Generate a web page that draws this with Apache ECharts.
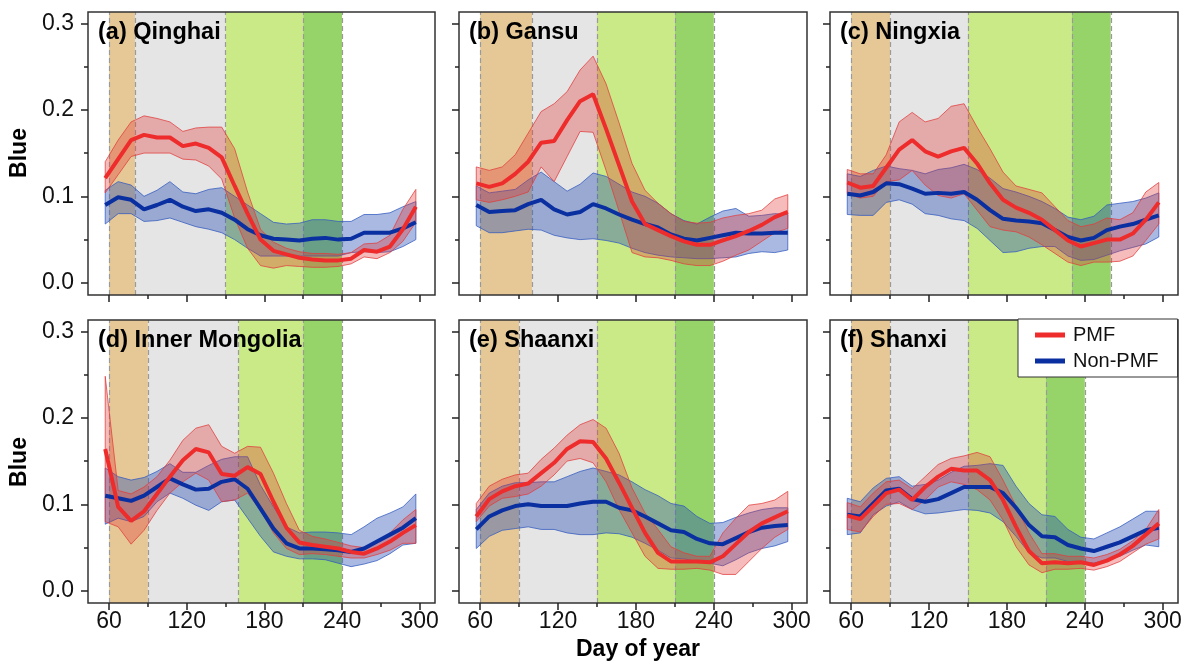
<!DOCTYPE html>
<html>
<head>
<meta charset="utf-8">
<script src="https://cdn.jsdelivr.net/npm/echarts@6.0.0/dist/echarts.min.js"></script>
<style>
html,body{margin:0;padding:0;background:#fff;}
#chart{width:1191px;height:661px;}
</style>
</head>
<body>
<div id="chart"></div>
<script>
// ---- Data ----
const days = [57,67,77,87,97,107,117,127,137,147,157,167,177,187,197,207,217,227,237,247,257,267,277,287,297];
const xTickMajor = [60,120,180,240,300];
const xTickMinor = [90,150,210,270];
const yTickMajor = [0.0,0.1,0.2,0.3];
const yTickMinor = [0.05,0.15,0.25];

const panelTitles = ['(a) Qinghai','(b) Gansu','(c) Ningxia','(d) Inner Mongolia','(e) Shaanxi','(f) Shanxi'];

// Period boundaries (day of year) for the shaded phases
const periodsA = [60,80,150,210,240];
const periodsB = [60,100,150,210,240];
const periodsC = [60,90,150,230,260];
const periodsD = [60,90,160,210,240];
const periodsE = [60,90,150,210,240];
const periodsF = [60,90,150,210,240];

// (a) Qinghai
const pmfMeanA = [0.121,0.143,0.165,0.171,0.168,0.168,0.158,0.161,0.156,0.145,0.112,0.080,0.050,0.037,0.033,0.029,0.027,0.026,0.026,0.028,0.038,0.036,0.042,0.062,0.088];
const pmfHiA   = [0.140,0.165,0.186,0.193,0.190,0.186,0.175,0.179,0.180,0.180,0.155,0.105,0.062,0.047,0.040,0.036,0.034,0.034,0.033,0.035,0.045,0.046,0.055,0.085,0.108];
const pmfLoA   = [0.104,0.125,0.146,0.150,0.150,0.150,0.143,0.142,0.135,0.120,0.075,0.040,0.020,0.017,0.020,0.019,0.018,0.018,0.019,0.022,0.030,0.028,0.035,0.048,0.070];
const nonMeanA = [0.090,0.099,0.096,0.085,0.090,0.096,0.088,0.083,0.085,0.081,0.073,0.062,0.055,0.051,0.050,0.049,0.051,0.052,0.050,0.051,0.058,0.058,0.058,0.063,0.070];
const nonHiA   = [0.107,0.117,0.113,0.100,0.107,0.117,0.105,0.103,0.108,0.110,0.100,0.090,0.080,0.070,0.068,0.069,0.073,0.073,0.071,0.071,0.079,0.079,0.081,0.088,0.094];
const nonLoA   = [0.068,0.080,0.080,0.071,0.072,0.075,0.070,0.065,0.062,0.058,0.050,0.040,0.031,0.031,0.031,0.031,0.031,0.031,0.031,0.035,0.036,0.035,0.036,0.042,0.050];

// (b) Gansu
const pmfMeanB = [0.115,0.111,0.115,0.126,0.140,0.162,0.164,0.188,0.210,0.218,0.178,0.136,0.094,0.068,0.061,0.054,0.048,0.044,0.044,0.049,0.054,0.060,0.067,0.076,0.082];
const pmfHiB   = [0.134,0.130,0.134,0.148,0.173,0.198,0.207,0.221,0.246,0.262,0.230,0.185,0.138,0.107,0.092,0.080,0.071,0.069,0.070,0.075,0.078,0.080,0.084,0.097,0.102];
const pmfLoB   = [0.096,0.093,0.096,0.100,0.105,0.134,0.117,0.146,0.175,0.174,0.130,0.083,0.035,0.030,0.029,0.026,0.022,0.020,0.020,0.025,0.032,0.038,0.048,0.058,0.063];
const nonMeanB = [0.090,0.082,0.083,0.084,0.091,0.096,0.085,0.079,0.082,0.091,0.086,0.079,0.073,0.068,0.064,0.056,0.051,0.049,0.052,0.055,0.058,0.057,0.057,0.058,0.058];
const nonHiB   = [0.112,0.104,0.106,0.108,0.119,0.128,0.117,0.106,0.114,0.127,0.123,0.114,0.105,0.100,0.092,0.080,0.072,0.068,0.076,0.083,0.086,0.077,0.078,0.080,0.079];
const nonLoB   = [0.066,0.058,0.058,0.060,0.062,0.061,0.055,0.052,0.050,0.051,0.049,0.046,0.040,0.035,0.032,0.030,0.029,0.028,0.028,0.029,0.030,0.034,0.036,0.035,0.038];

// (c) Ningxia
const pmfMeanC = [0.116,0.110,0.112,0.133,0.154,0.165,0.152,0.146,0.152,0.156,0.138,0.115,0.096,0.087,0.081,0.073,0.061,0.049,0.042,0.046,0.050,0.050,0.057,0.073,0.093];
const pmfHiC   = [0.131,0.126,0.126,0.148,0.186,0.197,0.186,0.190,0.204,0.207,0.180,0.155,0.128,0.112,0.108,0.104,0.088,0.072,0.065,0.068,0.075,0.073,0.081,0.105,0.116];
const pmfLoC   = [0.103,0.098,0.100,0.117,0.119,0.130,0.113,0.101,0.098,0.103,0.084,0.065,0.061,0.059,0.053,0.044,0.034,0.024,0.020,0.024,0.024,0.025,0.031,0.049,0.068];
const nonMeanC = [0.103,0.101,0.105,0.115,0.114,0.109,0.103,0.104,0.103,0.105,0.096,0.084,0.074,0.072,0.071,0.069,0.061,0.053,0.049,0.052,0.061,0.065,0.068,0.073,0.078];
const nonHiC   = [0.126,0.123,0.130,0.135,0.132,0.130,0.126,0.131,0.133,0.137,0.131,0.121,0.109,0.105,0.100,0.094,0.086,0.076,0.073,0.077,0.090,0.092,0.094,0.098,0.104];
const nonLoC   = [0.079,0.078,0.078,0.093,0.096,0.091,0.080,0.078,0.074,0.072,0.063,0.049,0.035,0.036,0.040,0.042,0.042,0.031,0.026,0.027,0.032,0.037,0.041,0.045,0.053];

// (d) Inner Mongolia
const pmfMeanD = [0.164,0.097,0.081,0.092,0.112,0.132,0.151,0.164,0.160,0.135,0.133,0.143,0.135,0.103,0.073,0.056,0.053,0.051,0.049,0.045,0.043,0.049,0.057,0.067,0.076];
const pmfHiD   = [0.248,0.116,0.112,0.120,0.132,0.151,0.174,0.188,0.192,0.167,0.159,0.167,0.166,0.136,0.101,0.070,0.063,0.060,0.056,0.052,0.050,0.057,0.067,0.082,0.094];
const pmfLoD   = [0.080,0.074,0.054,0.070,0.093,0.113,0.126,0.136,0.128,0.103,0.105,0.113,0.093,0.067,0.049,0.042,0.043,0.042,0.040,0.038,0.038,0.042,0.047,0.055,0.055];
const nonMeanD = [0.110,0.107,0.104,0.110,0.120,0.130,0.123,0.117,0.118,0.126,0.129,0.118,0.095,0.072,0.055,0.049,0.049,0.048,0.047,0.045,0.049,0.057,0.065,0.073,0.084];
const nonHiD   = [0.142,0.132,0.128,0.131,0.138,0.147,0.137,0.137,0.145,0.152,0.155,0.155,0.122,0.097,0.074,0.067,0.068,0.068,0.067,0.065,0.074,0.084,0.090,0.097,0.112];
const nonLoD   = [0.077,0.084,0.080,0.086,0.103,0.113,0.107,0.099,0.093,0.103,0.105,0.084,0.063,0.045,0.040,0.037,0.037,0.036,0.032,0.028,0.031,0.035,0.043,0.053,0.055];

// (e) Shaanxi
const pmfMeanE = [0.086,0.106,0.115,0.121,0.124,0.136,0.148,0.164,0.173,0.172,0.153,0.125,0.096,0.067,0.044,0.034,0.034,0.034,0.033,0.040,0.054,0.068,0.078,0.085,0.092];
const pmfHiE   = [0.101,0.121,0.129,0.134,0.136,0.152,0.165,0.180,0.192,0.198,0.188,0.159,0.119,0.090,0.071,0.051,0.044,0.040,0.040,0.067,0.084,0.099,0.101,0.105,0.115];
const pmfLoE   = [0.080,0.098,0.107,0.109,0.112,0.121,0.134,0.150,0.153,0.148,0.126,0.094,0.067,0.040,0.026,0.025,0.025,0.026,0.024,0.019,0.019,0.034,0.049,0.062,0.071];
const nonMeanE = [0.071,0.086,0.093,0.098,0.100,0.098,0.098,0.098,0.101,0.103,0.103,0.096,0.093,0.086,0.078,0.070,0.068,0.060,0.055,0.054,0.061,0.068,0.073,0.075,0.076];
const nonHiE   = [0.094,0.113,0.121,0.125,0.125,0.126,0.126,0.132,0.138,0.142,0.138,0.134,0.126,0.117,0.110,0.101,0.098,0.086,0.078,0.079,0.085,0.090,0.094,0.096,0.096];
const nonLoE   = [0.049,0.063,0.070,0.072,0.074,0.071,0.071,0.067,0.065,0.065,0.067,0.066,0.062,0.055,0.047,0.038,0.037,0.034,0.032,0.029,0.036,0.044,0.049,0.052,0.057];

// (f) Shanxi
const pmfMeanF = [0.087,0.083,0.098,0.113,0.117,0.105,0.120,0.132,0.141,0.139,0.139,0.128,0.105,0.074,0.046,0.032,0.033,0.032,0.033,0.030,0.035,0.042,0.052,0.065,0.078];
const pmfHiF   = [0.102,0.097,0.113,0.126,0.128,0.118,0.132,0.146,0.153,0.156,0.160,0.155,0.128,0.098,0.067,0.043,0.043,0.040,0.040,0.038,0.042,0.048,0.058,0.071,0.094];
const pmfLoF   = [0.071,0.068,0.086,0.100,0.101,0.094,0.105,0.120,0.126,0.123,0.117,0.105,0.082,0.051,0.030,0.021,0.025,0.025,0.026,0.024,0.028,0.034,0.044,0.054,0.060];
const nonMeanF = [0.088,0.086,0.101,0.116,0.118,0.106,0.103,0.106,0.113,0.120,0.120,0.120,0.113,0.096,0.076,0.063,0.062,0.053,0.049,0.046,0.051,0.056,0.063,0.070,0.073];
const nonHiF   = [0.107,0.103,0.119,0.130,0.132,0.121,0.123,0.128,0.137,0.144,0.145,0.147,0.145,0.121,0.101,0.088,0.086,0.071,0.062,0.060,0.067,0.074,0.083,0.092,0.092];
const nonLoF   = [0.065,0.067,0.088,0.098,0.103,0.094,0.089,0.090,0.092,0.094,0.093,0.090,0.080,0.063,0.044,0.038,0.038,0.034,0.034,0.032,0.036,0.040,0.047,0.053,0.051];

// ---- Layout / style ----
const FONT = '"Liberation Sans", Arial, sans-serif';
const COL_LEFT = [88, 459, 830];
const COL_W = [347, 348, 348];
const ROW_TOP = [12, 320];
const PLOT_H = 283;
const XMIN = 43.7, XMAX = 311.8, YMIN = -0.014, YMAX = 0.313;
const BG_COLORS = ['#E6C896', '#E5E5E5', '#CAEA87', '#96D46A'];
const RED = '#EE2C2C', BLUE = '#0A2FA0';
const RED_FILL = 'rgba(228,50,50,0.33)', BLUE_FILL = 'rgba(40,80,180,0.40)';
const RED_EDGE = 'rgba(225,60,60,0.85)', BLUE_EDGE = 'rgba(50,90,190,0.85)';

const panels = [
  {title: panelTitles[0], periods: periodsA, pmf: [pmfMeanA, pmfLoA, pmfHiA], non: [nonMeanA, nonLoA, nonHiA]},
  {title: panelTitles[1], periods: periodsB, pmf: [pmfMeanB, pmfLoB, pmfHiB], non: [nonMeanB, nonLoB, nonHiB]},
  {title: panelTitles[2], periods: periodsC, pmf: [pmfMeanC, pmfLoC, pmfHiC], non: [nonMeanC, nonLoC, nonHiC]},
  {title: panelTitles[3], periods: periodsD, pmf: [pmfMeanD, pmfLoD, pmfHiD], non: [nonMeanD, nonLoD, nonHiD]},
  {title: panelTitles[4], periods: periodsE, pmf: [pmfMeanE, pmfLoE, pmfHiE], non: [nonMeanE, nonLoE, nonHiE]},
  {title: panelTitles[5], periods: periodsF, pmf: [pmfMeanF, pmfLoF, pmfHiF], non: [nonMeanF, nonLoF, nonHiF]}
];

const grid = [], xAxis = [], yAxis = [], series = [], graphic = [];

// band drawn as one polygon through the axes' scales (api.coord)
function bandSeries(xi, yi, lo, hi, fill, edge, z) {
  return {
    type: 'custom', xAxisIndex: xi, yAxisIndex: yi, silent: true, z: z,
    data: days.map((d, k) => [d, lo[k], hi[k]]),
    encode: {x: 0, y: [1, 2]},
    renderItem: function (params, api) {
      if (params.dataIndex !== 0) return null;
      const upper = [], lower = [];
      for (let k = 0; k < days.length; k++) {
        upper.push(api.coord([days[k], hi[k]]));
        lower.push(api.coord([days[k], lo[k]]));
      }
      const poly = upper.concat(lower.reverse());
      return {type: 'polygon', shape: {points: poly}, style: {fill: fill, stroke: edge, lineWidth: 0.9}};
    }
  };
}

const tickStyle = {color: '#222', width: 1.5};

panels.forEach((p, i) => {
  const col = i % 3, row = Math.floor(i / 3);
  const left = COL_LEFT[col], top = ROW_TOP[row], width = COL_W[col];
  const gMain = grid.length;
  grid.push({left: left, top: top, width: width, height: PLOT_H, show: false});
  const gOver = grid.length;
  grid.push({left: left, top: top, width: width, height: PLOT_H, show: true, z: 10,
    backgroundColor: 'transparent', borderColor: '#333', borderWidth: 1.5});

  const xi = xAxis.length;
  xAxis.push({type: 'value', gridIndex: gMain, min: XMIN, max: XMAX, position: 'bottom', z: 10,
    axisLine: {show: false, onZero: false},
    axisTick: {show: true, length: 7, customValues: xTickMajor, lineStyle: tickStyle},
    axisLabel: {show: row === 1, customValues: xTickMajor, fontSize: 23, color: '#111', fontFamily: FONT, margin: 7},
    splitLine: {show: false}});
  xAxis.push({type: 'value', gridIndex: gOver, min: XMIN, max: XMAX, position: 'bottom', z: 10,
    axisLine: {show: false, onZero: false},
    axisTick: {show: true, length: 4, customValues: xTickMinor, lineStyle: tickStyle},
    axisLabel: {show: false}, splitLine: {show: false}});

  const yi = yAxis.length;
  yAxis.push({type: 'value', gridIndex: gMain, min: YMIN, max: YMAX, position: 'left', z: 10,
    axisLine: {show: false, onZero: false},
    axisTick: {show: true, length: 7, customValues: yTickMajor, lineStyle: tickStyle},
    axisLabel: {show: col === 0, customValues: yTickMajor, fontSize: 23, color: '#111', fontFamily: FONT, margin: 14,
      formatter: v => v.toFixed(1)},
    splitLine: {show: false}});
  yAxis.push({type: 'value', gridIndex: gOver, min: YMIN, max: YMAX, position: 'left', z: 10,
    axisLine: {show: false, onZero: false},
    axisTick: {show: true, length: 4, customValues: yTickMinor, lineStyle: tickStyle},
    axisLabel: {show: false}, splitLine: {show: false}});

  const per = p.periods;
  const areas = [];
  for (let k = 0; k < per.length - 1; k++) {
    areas.push([{xAxis: per[k], itemStyle: {color: BG_COLORS[k]}}, {xAxis: per[k + 1]}]);
  }
  const pts = arr => days.map((d, k) => [d, arr[k]]);

  // background phases (markArea + dashed boundaries)
  series.push({type: 'line', xAxisIndex: xi, yAxisIndex: yi, data: pts(p.non[0]), symbol: 'none', silent: true,
    lineStyle: {opacity: 0}, z: 1,
    markArea: {silent: true, z: 1, data: areas},
    markLine: {silent: true, z: 1, symbol: ['none', 'none'], label: {show: false},
      lineStyle: {color: '#9a9a9a', type: [5, 3], width: 1.2},
      data: per.map(v => ({xAxis: v}))}
  });

  series.push(bandSeries(xi, yi, p.non[1], p.non[2], BLUE_FILL, BLUE_EDGE, 3));
  series.push(bandSeries(xi, yi, p.pmf[1], p.pmf[2], RED_FILL, RED_EDGE, 4));

  series.push({name: 'Non-PMF', type: 'line', xAxisIndex: xi, yAxisIndex: yi, data: pts(p.non[0]), symbol: 'none',
    lineStyle: {color: BLUE, width: 4}, itemStyle: {color: BLUE}, z: 5});
  series.push({name: 'PMF', type: 'line', xAxisIndex: xi, yAxisIndex: yi, data: pts(p.pmf[0]), symbol: 'none',
    lineStyle: {color: RED, width: 4}, itemStyle: {color: RED}, z: 6});

  graphic.push({type: 'text', x: left + 10, y: top + 21, z: 50, silent: true,
    style: {text: p.title, font: 'bold 23.5px ' + FONT, fill: '#000',
      align: 'left', verticalAlign: 'middle', textAlign: 'left', textVerticalAlign: 'middle'}});
});

const axisTitleFont = 'bold 23px ' + FONT;
graphic.push({type: 'text', x: 20, y: 153, rotation: Math.PI / 2, z: 50, silent: true,
  style: {text: 'Blue', font: axisTitleFont, fill: '#000', align: 'center', verticalAlign: 'middle', textAlign: 'center', textVerticalAlign: 'middle'}});
graphic.push({type: 'text', x: 20, y: 462, rotation: Math.PI / 2, z: 50, silent: true,
  style: {text: 'Blue', font: axisTitleFont, fill: '#000', align: 'center', verticalAlign: 'middle', textAlign: 'center', textVerticalAlign: 'middle'}});
graphic.push({type: 'text', x: 638, y: 650, z: 50, silent: true,
  style: {text: 'Day of year', font: axisTitleFont, fill: '#000', align: 'center', verticalAlign: 'middle', textAlign: 'center', textVerticalAlign: 'middle'}});

const chart = echarts.init(document.getElementById('chart'), null, {renderer: 'canvas'});
chart.setOption({
  animation: false,
  backgroundColor: '#fff',
  grid: grid,
  xAxis: xAxis,
  yAxis: yAxis,
  series: series,
  graphic: graphic,
  legend: {
    data: ['PMF', 'Non-PMF'],
    left: 1018, top: 319, orient: 'vertical',
    icon: 'rect', itemWidth: 30, itemHeight: 5, itemGap: 6,
    padding: [6, 19, 6, 17],
    backgroundColor: '#fff', borderColor: '#333', borderWidth: 1, borderRadius: 0,
    textStyle: {fontSize: 20, color: '#111', fontFamily: FONT, padding: [0, 0, 0, 3]},
    z: 20
  }
});
</script>
</body>
</html>
